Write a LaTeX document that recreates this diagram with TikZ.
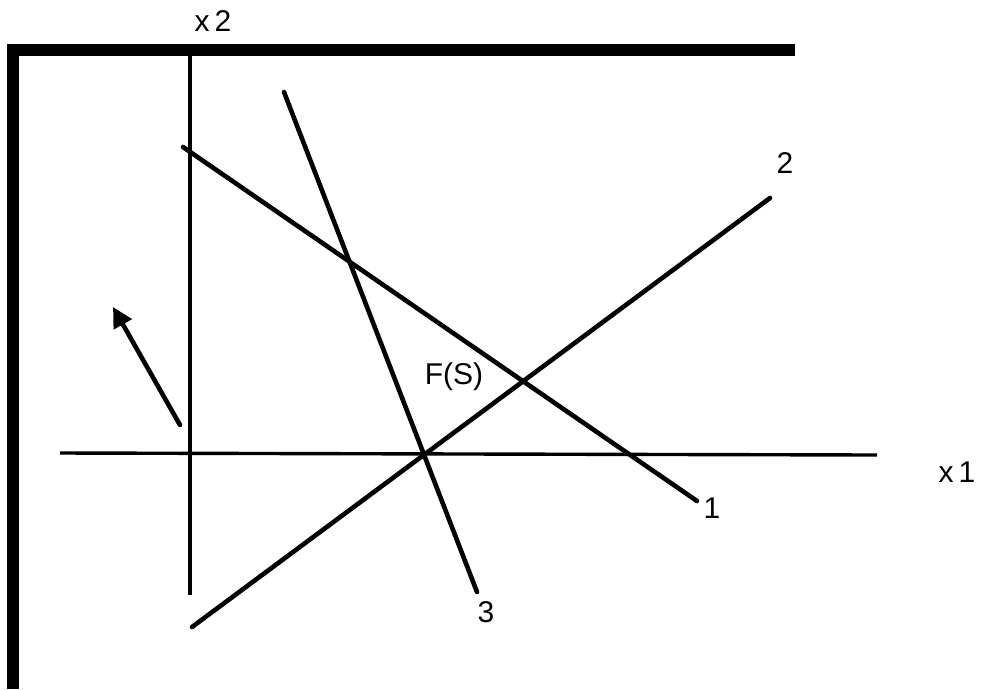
\documentclass[tikz,border=0pt]{standalone}
\usepackage{fontspec}
\setmainfont{Liberation Sans}
\usetikzlibrary{arrows.meta}
\begin{document}
\begin{tikzpicture}[x=1pt,y=-1pt,
  lbl/.style={font=\fontsize{30}{34}\selectfont, inner sep=0pt},
  cons/.style={line width=4.6pt, line cap=round},
  axis/.style={line width=3.4pt},
  frame/.style={fill=black}]
\useasboundingbox (0,0) rectangle (981,689);
% frame
\fill[frame] (7,44) rectangle (795,56);
\fill[frame] (7,44) rectangle (19,689);
% axes
\coordinate (x2a) at (190,56);
\coordinate (x2b) at (190,595);
\coordinate (x1a) at (60,453);
\coordinate (x1b) at (877,455);
\draw[axis] (x2a) -- (x2b);
\draw[axis] (x1a) -- (x1b);
\node[lbl] (lx2) at (213,21) {x\,2};
\node[lbl] (lx1) at (957,472) {x\,1};
% constraint lines
\coordinate (c1a) at (183,147);
\coordinate (c1b) at (697,501);
\coordinate (c2a) at (192,627);
\coordinate (c2b) at (770,198);
\coordinate (c3a) at (284,92);
\coordinate (c3b) at (477,592);
\draw[cons] (c1a) -- (c1b);
\draw[cons] (c2a) -- (c2b);
\draw[cons] (c3a) -- (c3b);
\node[lbl] (l1) at (712,508) {1};
\node[lbl] (l2) at (785,163) {2};
\node[lbl] (l3) at (486,612) {3};
\node[lbl] (fs) at (454,377) {F(S)};
% arrow
\coordinate (ara) at (180,425);
\coordinate (arb) at (113,307);
\draw[line width=4.6pt, line cap=round, -{Triangle[length=20pt,width=20pt]}] (ara) -- (arb);
\end{tikzpicture}
\end{document}
